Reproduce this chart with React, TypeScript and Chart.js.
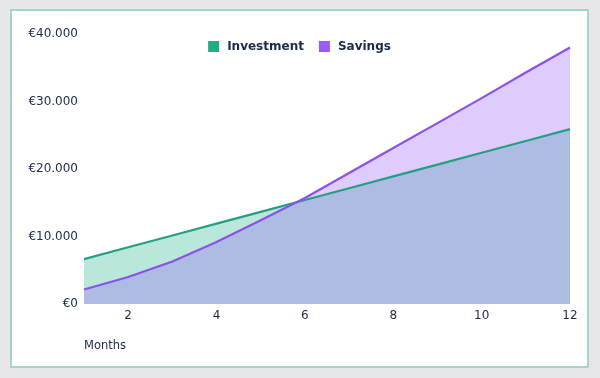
import React, { useEffect, useRef } from 'react';
import { Chart, registerables } from 'chart.js';

Chart.register(...registerables);

const months = ['1', '2', '3', '4', '5', '6', '7', '8', '9', '10', '11', '12'];
const investment = [6650, 8400, 10150, 11900, 13650, 15400, 17150, 18900, 20650, 22400, 24150, 25900];
const savings = [2150, 4000, 6300, 9200, 12400, 15700, 19400, 23100, 26800, 30500, 34300, 38000];
const yTickValues = [0, 10000, 20000, 30000, 40000];
const yTickLabels = ['€0', '€10.000', '€20.000', '€30.000', '€40.000'];
const seriesNames = ['Investment', 'Savings'];
const xTitle = 'Months';

const TEXT = '#1c2a4c';
const FONT = '"DejaVu Sans", Verdana, sans-serif';

const legendPlugin = {
  id: 'centerLegend',
  afterDraw(chart: any) {
    const ctx = chart.ctx;
    ctx.save();
    ctx.font = `bold 12px ${FONT}`;
    ctx.textBaseline = 'middle';
    ctx.textAlign = 'left';
    const box = 11;
    const gapText = 8;
    const gapItems = 15;
    const items = chart.data.datasets.map((ds: any) => ({
      label: ds.label,
      color: ds.legendColor,
      w: ctx.measureText(ds.label).width,
    }));
    let total = 0;
    items.forEach((it: any, i: number) => {
      total += box + gapText + it.w + (i > 0 ? gapItems : 0);
    });
    let x = chart.width / 2 - total / 2;
    const y = 35.5;
    items.forEach((it: any) => {
      ctx.fillStyle = it.color;
      ctx.fillRect(x, y - box / 2, box, box);
      ctx.fillStyle = TEXT;
      ctx.fillText(it.label, x + box + gapText, y + 0.5);
      x += box + gapText + it.w + gapItems;
    });
    ctx.restore();
  },
};

export default function App() {
  const ref = useRef<HTMLCanvasElement | null>(null);

  useEffect(() => {
    if (!ref.current) return;
    const chart = new Chart(ref.current, {
      type: 'line',
      data: {
        labels: months,
        datasets: [
          {
            label: seriesNames[0],
            data: investment,
            borderColor: '#23a083',
            backgroundColor: 'rgba(26,175,138,0.3)',
            fill: 'origin',
            borderWidth: 2.2,
            pointRadius: 0,
            tension: 0,
            order: 2,
            legendColor: '#1fae8a',
          } as any,
          {
            label: seriesNames[1],
            data: savings,
            borderColor: '#8a52e8',
            backgroundColor: 'rgba(145,85,245,0.3)',
            fill: 'origin',
            borderWidth: 2.2,
            pointRadius: 0,
            tension: 0,
            order: 1,
            legendColor: '#9a5cf7',
          } as any,
        ],
      },
      options: {
        animation: false,
        responsive: false,
        maintainAspectRatio: false,
        layout: { padding: { top: 23, right: 17, bottom: 0, left: 0 } },
        plugins: {
          legend: { display: false },
          tooltip: { enabled: false },
          filler: { drawTime: 'beforeDatasetsDraw' },
        },
        scales: {
          x: {
            type: 'category',
            offset: false,
            grid: { display: false, drawTicks: false },
            border: { display: false },
            ticks: {
              autoSkip: false,
              maxRotation: 0,
              padding: 5,
              color: TEXT,
              font: { family: FONT, size: 12 },
              callback: (_v: any, i: number) => (i % 2 === 1 ? months[i] : ''),
            },
            title: {
              display: true,
              text: xTitle,
              align: 'start',
              color: TEXT,
              font: { family: FONT, size: 11.5 },
              padding: { top: 0, bottom: 13 },
            },
            afterFit: (s: any) => {
              s.height = 62;
            },
          },
          y: {
            min: 0,
            max: 40000,
            grid: { display: false, drawTicks: false },
            border: { display: false },
            afterBuildTicks: (s: any) => {
              s.ticks = yTickValues.map((v) => ({ value: v }));
            },
            ticks: {
              padding: 6,
              color: TEXT,
              font: { family: FONT, size: 12 },
              callback: (v: any) => {
                const i = yTickValues.indexOf(Number(v));
                return i >= 0 ? yTickLabels[i] : '';
              },
            },
            afterFit: (s: any) => {
              s.width = 72;
            },
          },
        },
      } as any,
      plugins: [legendPlugin],
    });
    return () => chart.destroy();
  }, []);

  return (
    <div
      style={{
        position: 'fixed',
        left: 0,
        top: 0,
        width: 600,
        height: 378,
        background: '#e7e7eb',
      }}
    >
      <div
        style={{
          position: 'absolute',
          left: 10,
          top: 9,
          width: 579,
          height: 359,
          boxSizing: 'border-box',
          border: '2px solid #a6d4c9',
          background: '#ffffff',
        }}
      >
        <canvas ref={ref} width={575} height={355} style={{ display: 'block', width: 575, height: 355 }} />
      </div>
    </div>
  );
}
